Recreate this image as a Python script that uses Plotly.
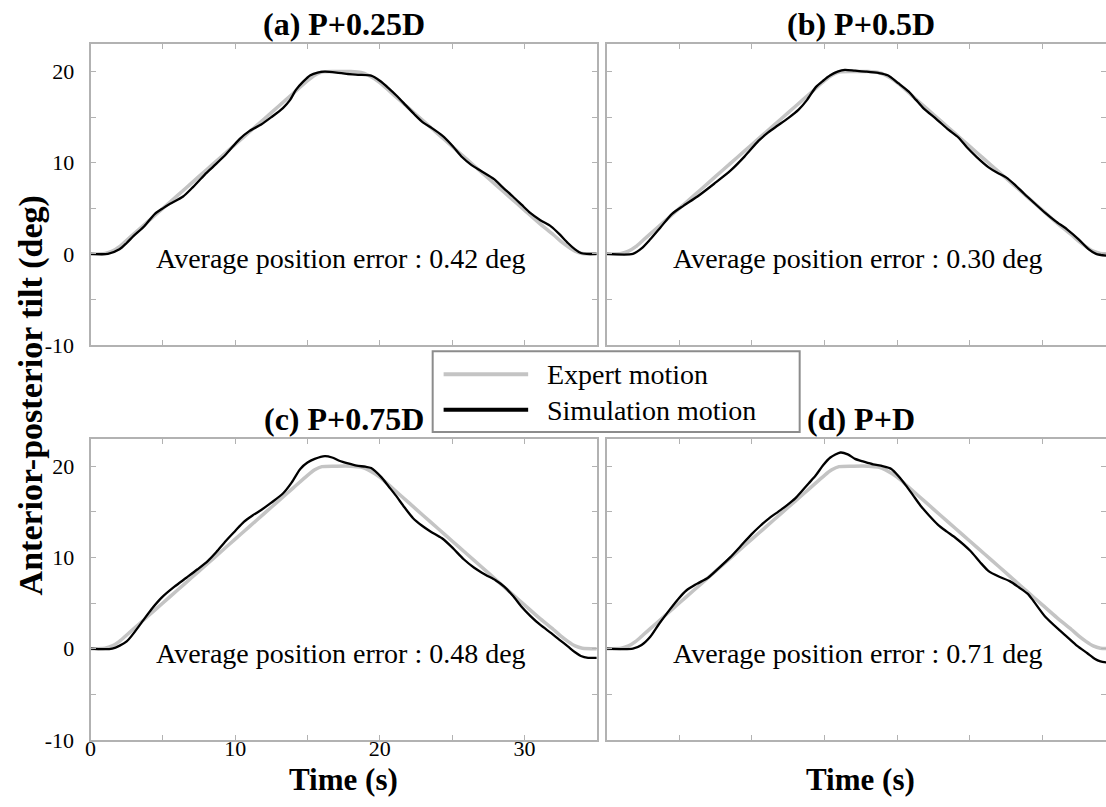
import plotly.graph_objects as go

# ---------------- data ----------------
t_expert = [0, 1, 1.5, 2, 2.5, 3, 4, 5, 6, 7, 8, 9, 10, 11, 12, 13, 14, 15, 15.5, 16, 17, 18,
            18.7, 19.2, 20, 21, 22, 23, 24, 25, 26, 27, 28, 29, 30, 31, 32, 32.5, 33, 33.5, 34, 35]
v_expert = [0, 0.05, 0.3, 0.8, 1.5, 2.2, 3.6, 5.0, 6.4, 7.8, 9.2, 10.6, 12.0, 13.4, 14.8, 16.2, 17.6,
            19.0, 19.6, 19.95, 20, 20, 19.9, 19.6, 18.8, 17.4, 16.0, 14.6, 13.2, 11.8, 10.4, 9.0, 7.6,
            6.2, 4.8, 3.4, 2.1, 1.4, 0.8, 0.3, 0.05, 0]

t_a = [0, 1.2, 2, 2.5, 3, 3.7, 4.45, 5, 5.5, 6.4, 7, 7.9, 8.5, 9.35, 10.3, 11, 11.8, 12.5, 13.3, 13.8,
       14.2, 14.7, 15.2, 15.7, 16.2, 17, 17.7, 18.5, 19.4, 20, 20.6, 21.2, 21.8, 22.4, 23, 23.6, 24.3,
       25, 25.7, 26.3, 27, 27.9, 28.5, 29.2, 29.8, 30.4, 31.1, 31.85, 32.4, 33, 33.5, 33.9, 34.3, 35]
v_a = [0, 0, 0.5, 1.2, 2.0, 3.0, 4.4, 5.0, 5.5, 6.3, 7.2, 8.7, 9.6, 10.9, 12.6, 13.5, 14.2, 15.0, 16.0,
       16.9, 18.0, 18.9, 19.6, 19.9, 20.0, 19.9, 19.75, 19.65, 19.55, 19.0, 18.2, 17.3, 16.3, 15.3, 14.4,
       13.8, 13.0, 11.9, 10.6, 9.8, 9.1, 8.2, 7.3, 6.3, 5.4, 4.5, 3.7, 3.0, 2.2, 1.2, 0.5, 0.1, 0, 0]

t_b = [0, 1.8, 2.4, 3.0, 3.7, 4.5, 5.3, 6.25, 7.4, 8.5, 9.5, 10.45, 11.1, 11.7, 12.5, 13.2, 13.8, 14.4,
       14.9, 15.4, 15.9, 16.4, 17.1, 17.9, 18.7, 19.35, 20.1, 20.8, 21.3, 21.8, 22.7, 23.55, 24.2, 24.8,
       25.5, 26.3, 26.9, 27.5, 28.1, 28.75, 29.5, 30.2, 30.9, 31.7, 32.5, 33.2, 33.7, 34.4]
v_b = [0, 0, 0.6, 1.6, 2.9, 4.4, 5.3, 6.3, 7.7, 9.1, 10.7, 12.4, 13.3, 14.0, 14.9, 15.8, 16.9, 18.3,
       19.0, 19.6, 20.0, 20.2, 20.1, 20.0, 19.85, 19.6, 18.7, 17.8, 16.9, 16.0, 14.8, 13.6, 12.8, 11.7,
       10.6, 9.5, 8.9, 8.4, 7.6, 6.6, 5.5, 4.5, 3.6, 2.7, 1.6, 0.5, 0.0, -0.2]

t_c = [0, 1.5, 2.5, 3.5, 4.2, 4.95, 5.8, 6.65, 7.4, 8.1, 8.7, 9.35, 10.0, 10.6, 11.2, 11.8, 12.5, 13.3,
       13.9, 14.5, 15.0, 15.5, 16.2, 16.7, 17.2, 17.8, 18.4, 19.0, 19.4, 20.1, 20.6, 21.1, 21.7, 22.3,
       22.9, 23.5, 24.3, 25.0, 25.8, 26.5, 27.3, 28.0, 28.6, 29.2, 29.8, 30.4, 31.1, 31.85, 32.4, 33.0,
       33.5, 33.9, 34.4, 35]
v_c = [0, 0, 0.8, 2.8, 4.3, 5.65, 6.8, 7.8, 8.7, 9.6, 10.6, 11.8, 12.9, 13.9, 14.6, 15.2, 16.0, 17.0,
       18.2, 19.7, 20.4, 20.8, 21.1, 20.95, 20.6, 20.3, 20.05, 19.95, 19.8, 18.8, 17.8, 16.8, 15.5, 14.3,
       13.5, 12.85, 12.1, 11.1, 9.8, 8.9, 8.1, 7.5, 6.8, 5.8, 4.6, 3.6, 2.6, 1.7, 1.0, 0.25, -0.4, -0.8,
       -1.0, -1.0]

t_d = [0, 1.8, 2.4, 3.0, 3.6, 4.3, 4.9, 5.5, 6.2, 7.0, 7.7, 8.5, 9.2, 9.95, 10.6, 11.2, 11.8, 12.4, 13.0,
       13.4, 13.9, 14.4, 14.9, 15.4, 16.1, 16.6, 17.1, 17.7, 18.35, 19.0, 19.6, 20.1, 20.6, 21.1, 21.6,
       22.2, 22.8, 23.4, 24.05, 25.05, 25.7, 26.3, 27.0, 27.75, 28.4, 29.0, 29.4, 30.2, 31.2, 31.7, 32.4,
       33.1, 33.6, 34.0, 34.4]
v_d = [0, 0, 0.4, 1.3, 2.7, 4.2, 5.4, 6.4, 7.1, 7.8, 8.8, 10.0, 11.2, 12.5, 13.5, 14.3, 15.0, 15.7, 16.5,
       17.2, 18.1, 19.0, 20.1, 20.95, 21.5, 21.3, 20.8, 20.5, 20.2, 20.0, 19.7, 18.9, 17.9, 16.8, 15.7,
       14.6, 13.6, 12.85, 12.1, 10.7, 9.5, 8.5, 7.9, 7.4, 6.7, 6.0, 5.2, 3.5, 2.0, 1.3, 0.3, -0.5, -1.1,
       -1.4, -1.5]

panel_titles = ["(a) P+0.25D", "(b) P+0.5D", "(c) P+0.75D", "(d) P+D"]
errors = ["0.42", "0.30", "0.48", "0.71"]
x_tickvals = [0, 5, 10, 15, 20, 25, 30, 35]
x_ticktext = ["0", "", "10", "", "20", "", "30", ""]
y_tickvals = [-10, -5, 0, 5, 10, 15, 20]
y_ticktext = ["-10", "", "0", "", "10", "", "20"]
series_names = ["Expert motion", "Simulation motion"]

# ---------------- layout helpers ----------------
W, H = 1106, 807
def px(p):
    return p / W
def py(p):
    return 1 - p / H

FONT = "Liberation Serif"
GRAY_AX = "#b2b2b2"
EXP_COL = "#c4c4c4"
SIM_COL = "#000000"

col_dom = [[px(85), px(594)], [px(604), 1.0]]
col_center = [(85 + 594) / 2 / W, (604 + 1115) / 2 / W]
row_dom = [[py(350.7), py(45)], [py(752), py(446)]]
x_ranges = [[0, 35], [0, (W - 604) / 14.6]]

fig = go.Figure()
sims = [(t_a, v_a), (t_b, v_b), (t_c, v_c), (t_d, v_d)]

for i, (ts, vs) in enumerate(sims):
    xa = "x" if i == 0 else f"x{i+1}"
    ya = "y" if i == 0 else f"y{i+1}"
    fig.add_trace(go.Scatter(x=t_expert, y=v_expert, mode="lines", name=series_names[0],
                             line=dict(color=EXP_COL, width=3.5, shape="spline", smoothing=0.7),
                             xaxis=xa, yaxis=ya, showlegend=False))
    fig.add_trace(go.Scatter(x=ts, y=vs, mode="lines", name=series_names[1],
                             line=dict(color=SIM_COL, width=2.3, shape="spline", smoothing=0.7),
                             xaxis=xa, yaxis=ya, showlegend=False))

layout = dict(width=W, height=H, margin=dict(l=0, r=0, t=0, b=0), autosize=False,
              paper_bgcolor="white", plot_bgcolor="white", showlegend=False,
              font=dict(family=FONT, size=22, color="black"))

for i in range(4):
    r, c = divmod(i, 2)
    xk = "xaxis" if i == 0 else f"xaxis{i+1}"
    yk = "yaxis" if i == 0 else f"yaxis{i+1}"
    ya = "y" if i == 0 else f"y{i+1}"
    xa = "x" if i == 0 else f"x{i+1}"
    layout[xk] = dict(domain=col_dom[c], anchor=ya, range=x_ranges[c],
                      tickvals=x_tickvals, ticktext=x_ticktext,
                      showticklabels=(i == 2), ticks="inside", ticklen=5, tickwidth=1,
                      tickcolor=GRAY_AX, showline=True, linecolor=GRAY_AX, linewidth=2,
                      mirror="ticks", showgrid=False, zeroline=False, ticklabelstandoff=-12,
                      tickfont=dict(family=FONT, size=22, color="black"))
    layout[yk] = dict(domain=row_dom[r], anchor=xa, range=[-10, 23],
                      tickvals=y_tickvals, ticktext=y_ticktext,
                      showticklabels=(c == 0), ticks="inside", ticklen=5, tickwidth=1,
                      tickcolor=GRAY_AX, showline=True, linecolor=GRAY_AX, linewidth=2,
                      mirror=("ticks" if c == 0 else False), showgrid=False, zeroline=False,
                      ticklabelstandoff=10,
                      tickfont=dict(family=FONT, size=22, color="black"))

# right-side ticks (no border line) for the cropped right-hand panels
for k, base in [(5, 2), (6, 4)]:
    layout[f"yaxis{k}"] = dict(overlaying=f"y{base}", anchor=f"x{base}", side="right",
                               range=[-10, 23], tickvals=y_tickvals, showticklabels=False,
                               ticks="inside", ticklen=5, tickwidth=1, tickcolor=GRAY_AX,
                               showline=False, showgrid=False, zeroline=False)

fig.update_layout(**layout)
fig.add_trace(go.Scatter(x=[None], y=[None], xaxis="x2", yaxis="y5", showlegend=False, hoverinfo="skip"))
fig.add_trace(go.Scatter(x=[None], y=[None], xaxis="x4", yaxis="y6", showlegend=False, hoverinfo="skip"))

annotations = []
for i in range(4):
    r, c = divmod(i, 2)
    xa = "x" if i == 0 else f"x{i+1}"
    ya = "y" if i == 0 else f"y{i+1}"
    annotations.append(dict(text=f"<b>{panel_titles[i]}</b>", xref="paper", yref="paper",
                            x=col_center[c], y=row_dom[r][1], xanchor="center", yanchor="bottom",
                            showarrow=False, font=dict(family=FONT, size=32, color="black")))
    annotations.append(dict(text=f"Average position error : {errors[i]} deg", xref=xa, yref=ya,
                            x=17.3, y=-0.5, xanchor="center", yanchor="middle", showarrow=False,
                            font=dict(family=FONT, size=28, color="black")))

# axis titles
for cx in col_center:
    annotations.append(dict(text="<b>Time (s)</b>", xref="paper", yref="paper", x=cx, y=-5 / H,
                            xanchor="center", yanchor="bottom", showarrow=False,
                            font=dict(family=FONT, size=31, color="black")))
annotations.append(dict(text="<b>Anterior-posterior tilt (deg)</b>", xref="paper", yref="paper",
                        x=px(25), y=py(402), xanchor="center", yanchor="middle", textangle=-90,
                        showarrow=False, font=dict(family=FONT, size=34, color="black")))

# legend (box + sample lines + labels)
shapes = [dict(type="rect", xref="paper", yref="paper", x0=px(429), x1=px(798), y0=py(439), y1=py(357),
               line=dict(color="#8c8c8c", width=2), fillcolor="white", layer="above"),
          dict(type="line", xref="paper", yref="paper", x0=px(440), x1=px(525), y0=py(380.5), y1=py(380.5),
               line=dict(color=EXP_COL, width=4), layer="above"),
          dict(type="line", xref="paper", yref="paper", x0=px(440), x1=px(525), y0=py(416.5), y1=py(416.5),
               line=dict(color=SIM_COL, width=4), layer="above")]
for name, yc in zip(series_names, [381, 417]):
    annotations.append(dict(text=name, xref="paper", yref="paper", x=px(542), y=py(yc),
                            xanchor="left", yanchor="middle", showarrow=False,
                            font=dict(family=FONT, size=28, color="black")))

fig.update_layout(annotations=annotations, shapes=shapes)
fig.write_html("out.html")
